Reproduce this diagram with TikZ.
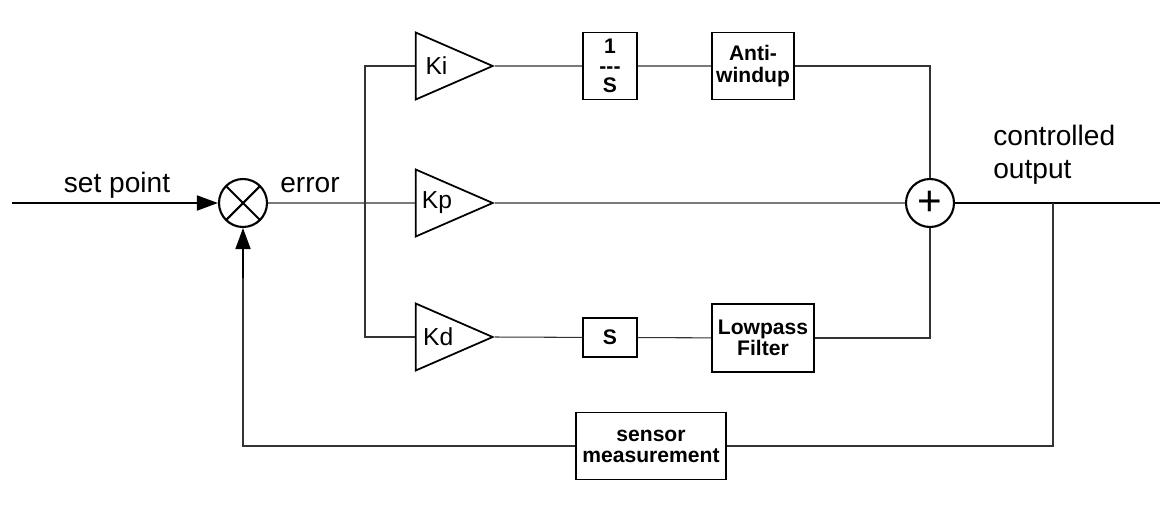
\documentclass[tikz,border=0pt]{standalone}
\usepackage{fontspec}
\setmainfont{Liberation Sans}
\usetikzlibrary{arrows.meta,positioning,shapes.geometric}

\begin{document}
\begin{tikzpicture}[
  wire/.style={line width=0.6pt, draw=black!80},
  sigwire/.style={line width=1pt, draw=black},
  tip/.style={-{Triangle[length=0.42cm,width=0.3cm]}},
  gain/.style={draw, line width=1pt, isosceles triangle, isosceles triangle stretches,
    minimum width=1.34cm, minimum height=1.54cm, inner sep=0pt, font=\fontsize{14}{16}\selectfont},
  block/.style={draw, line width=1pt, align=center, inner sep=0pt, font=\fontsize{12}{12}\selectfont\bfseries},
  junction/.style={draw, circle, line width=1.2pt, minimum size=0.96cm, inner sep=0pt},
  lbl/.style={font=\fontsize{16}{19}\selectfont}
]
  \useasboundingbox (0,0) rectangle (23.46,-10.18);
  \coordinate (in) at (0.24,-4.06);
  \coordinate (out) at (23.2,-4.06);
  \coordinate (br) at (7.3,-4.06);
  \coordinate (tap) at (21.06,-4.06);
  % summing junctions
  \node[junction, path picture={\draw[line width=1.2pt] (path picture bounding box.center)
    +(45:0.48) -- +(225:0.48) +(135:0.48) -- +(-45:0.48);}] (sum) at (4.86,-4.06) {};
  \node[junction, font=\fontsize{24}{24}\selectfont] (add) at (18.6,-4.06) {+};
  % gains
  \node[gain, anchor=apex] (ki) at (9.9,-1.32) {Ki\hspace{0.3cm}};
  \node[gain, anchor=apex] (kp) at (9.9,-4.06) {Kp\hspace{0.3cm}};
  \node[gain, anchor=apex] (kd) at (9.9,-6.74) {Kd\hspace{0.3cm}};
  % blocks
  \node[block, minimum width=1.08cm, minimum height=1.34cm] (integ) at (12.2,-1.32) {1\\[-1pt]-{}-{}-\\[-1pt]S};
  \node[block, minimum width=1.64cm, minimum height=1.34cm] (aw) at (15.06,-1.32) {Anti-\\windup};
  \node[block, minimum width=1.08cm, minimum height=0.78cm] (deriv) at (12.2,-6.75) {S};
  \node[block, minimum width=2.04cm, minimum height=1.36cm] (lpf) at (15.26,-6.76) {Lowpass\\Filter};
  \node[block, minimum width=3.0cm, minimum height=1.34cm] (sensor) at (13.02,-8.92) {sensor\\measurement};
  % labels
  \node[lbl] (setpt) at (2.34,-3.7) {set point};
  \node[lbl] (err) at (6.2,-3.7) {error};
  \node[lbl, align=left, anchor=west, inner sep=0pt] (ctrl) at (19.86,-3.1) {controlled\\output};
  % connections
  \draw[sigwire, tip] (in) -- (sum.west);
  \draw[wire] (sum.east) -- (kp.west);
  \draw[wire] (ki.west) -| (br) |- (kd.west);
  \draw[wire] (ki.east) -- (integ) -- (aw);
  \draw[wire] (aw.east) -| (add.north);
  \draw[wire] (kp.east) -- (add.west);
  \draw[wire] (kd.east) -- (deriv) -- (lpf);
  \draw[wire] (lpf.east) -| (add.south);
  \draw[sigwire] (add.east) -- (out);
  \draw[wire] (tap) |- (sensor.east);
  \draw[wire] (sensor.west) -| ([yshift=-1cm]sum.south);
  \draw[sigwire, tip] ([yshift=-1cm]sum.south) -- (sum.south);
\end{tikzpicture}
\end{document}
